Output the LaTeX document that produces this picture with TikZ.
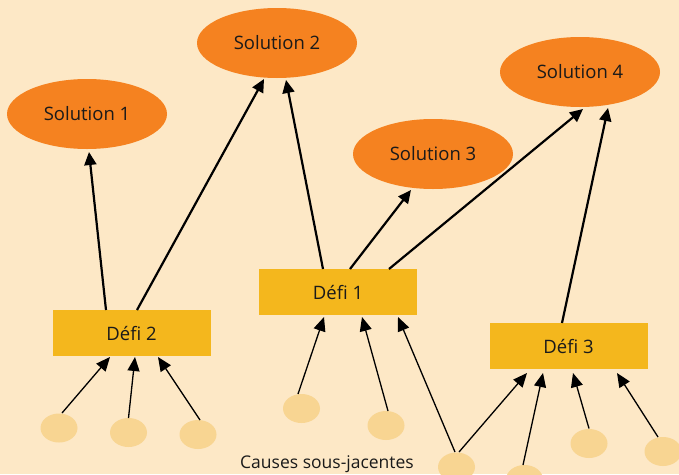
\documentclass[tikz,border=0pt]{standalone}
\usepackage{fontspec}
\setmainfont{Open Sans}
\usetikzlibrary{shapes.geometric,arrows.meta,calc}
\definecolor{bgc}{HTML}{FDE8C6}
\definecolor{solc}{HTML}{F58220}
\definecolor{defc}{HTML}{F4B71D}
\definecolor{cauc}{HTML}{F8D592}
\definecolor{txt}{HTML}{1A1A1A}
\tikzset{
  sol/.style={ellipse,fill=solc,minimum width=160pt,minimum height=70pt,inner sep=0pt,text=txt,font=\fontsize{18.5}{20}\selectfont},
  defi/.style={rectangle,fill=defc,minimum width=158pt,minimum height=46pt,inner sep=0pt,text=txt,font=\fontsize{18.5}{20}\selectfont},
  cause/.style={ellipse,fill=cauc,minimum width=37pt,minimum height=29pt,inner sep=0pt},
  thick arr/.style={line width=2.2pt,-{Triangle[length=13pt,width=12pt]}},
  thin arr/.style={line width=1.3pt,-{Triangle[length=14pt,width=12pt]}}
}
\begin{document}
\begin{tikzpicture}[x=1pt,y=-1pt]
\fill[bgc] (0,0) rectangle (679,474);
\useasboundingbox (0,0) rectangle (679,474);
% solutions
\node[sol] (s1) at (87,114) {Solution 1};
\node[sol] (s2) at (277,43) {Solution 2};
\node[sol] (s3) at (433,154) {Solution 3};
\node[sol] (s4) at (580,72) {Solution 4};
% defis
\node[defi] (d1) at (338,292) {Défi 1};
\node[defi] (d2) at (131.5,333) {Défi 2};
\node[defi] (d3) at (568.5,346) {Défi 3};
% causes
\node[cause] (c1) at (59,428) {};
\node[cause] (c2) at (128.5,432.5) {};
\node[cause] (c3) at (198,434.5) {};
\node[cause] (c4) at (301.5,408.5) {};
\node[cause] (c5) at (386,425.5) {};
\node[cause] (c6) at (456.5,467) {};
\node[cause] (c7) at (524.5,479.5) {};
\node[cause] (c8) at (589,443.5) {};
\node[cause] (c9) at (663,451.5) {};
\node[text=txt,font=\fontsize{17.5}{19}\selectfont] (lab) at (327,464) {Causes sous-jacentes};
% thick arrows
\draw[thick arr] ($(d2)+(-25.5,-23)$) -- ($(s1)+(2,38)$);
\draw[thick arr] ($(d2)+(5.5,-23)$) -- ($(s2)+(-13,36)$);
\draw[thick arr] ($(d1)+(-15,-23)$) -- ($(s2)+(9,37)$);
\draw[thick arr] ($(d1)+(12,-23)$) -- ($(s3)+(-22,36)$);
\draw[thick arr] ($(d1)+(51,-23)$) -- ($(s4)+(3,37)$);
\draw[thick arr] ($(d3)+(-6.5,-23)$) -- ($(s4)+(28,36)$);
% thin arrows
\draw[thin arr] ($(c1)+(3,-15)$) -- ($(d2)+(-21.5,24)$);
\draw[thin arr] ($(c2)+(0,-14.5)$) -- ($(d2)+(3.5,24)$);
\draw[thin arr] ($(c3)+(2,-14.5)$) -- ($(d2)+(26.5,24)$);
\draw[thin arr] ($(c4)+(-3.5,-14.5)$) -- ($(d1)+(-14,25)$);
\draw[thin arr] ($(c5)+(2,-14.5)$) -- ($(d1)+(24,25)$);
\draw[thin arr] ($(c6)+(-1.5,-15)$) -- ($(d1)+(60,25)$);
\draw[thin arr] ($(c6)+(2.5,-15)$) -- ($(d3)+(-41.5,27)$);
\draw[thin arr] ($(c7)+(-1.5,-14.5)$) -- ($(d3)+(-25.5,27)$);
\draw[thin arr] ($(c8)+(0,-15)$) -- ($(d3)+(4.5,27)$);
\draw[thin arr] ($(c9)+(-5,-14.5)$) -- ($(d3)+(48.5,27)$);
\end{tikzpicture}
\end{document}
